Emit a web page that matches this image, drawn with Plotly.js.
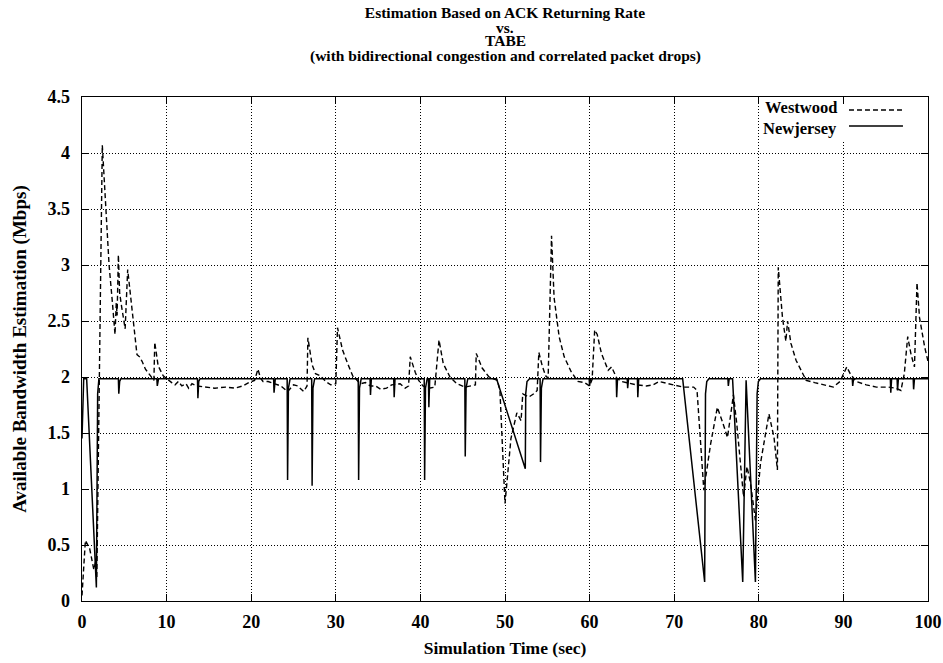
<!DOCTYPE html>
<html>
<head>
<meta charset="utf-8">
<script src="https://cdn.plot.ly/plotly-3.0.1.min.js"></script>
<style>html,body{margin:0;padding:0;background:#fff;}#chart{width:943px;height:663px;}</style>
</head>
<body>
<div id="chart"></div>
<script>
// ---- data ----
const westwoodTime = [0,0.4,0.9,1.4,1.6,1.75,2.4,2.8,3.2,3.6,3.9,4.05,4.15,4.3,4.45,4.7,5.1,5.4,5.9,6.3,6.5,6.8,7.1,7.5,8.1,8.5,8.6,8.8,9.0,9.6,10.2,10.6,11.0,11.4,11.8,12.3,12.6,13.0,13.6,14.5,15.7,17.0,18.1,19.0,19.7,20.4,20.8,21.1,21.4,22.0,22.9,23.5,24.3,25.0,25.5,26.2,26.6,26.7,27.2,27.6,28.2,28.8,29.4,30.0,30.2,30.8,31.4,32.0,32.9,33.5,34.1,34.7,35.3,36.0,36.6,37.6,38.2,38.6,38.8,39.4,39.8,40.3,41.0,41.7,42.2,42.7,43.5,44.3,45.3,46.0,46.5,46.6,47.3,48.1,49.1,49.4,50.0,50.7,51.4,51.9,52.1,52.8,53.4,53.8,54.0,54.4,54.8,55.1,55.3,55.5,55.8,56.4,57.0,57.8,58.6,59.4,60.0,60.3,60.6,60.9,61.4,62.2,62.6,63.2,63.8,64.3,65.5,66.7,67.5,68.2,68.7,69.9,71.1,72.3,72.7,73.5,74.3,75.1,75.7,76.3,77.0,77.4,78.2,78.6,79.0,79.6,80.2,81.2,81.8,82.2,82.3,82.8,83.2,83.4,83.8,84.4,85.0,85.6,86.6,87.8,88.8,89.6,90.0,90.4,90.8,91.5,92.7,93.9,95.3,96.2,96.8,97.2,97.6,98.0,98.4,98.7,99.0,99.6,100.0];
const westwoodBw = [0.05,0.54,0.47,0.28,0.35,0.2,4.07,3.5,3.0,2.66,2.38,2.66,2.55,3.09,2.75,2.62,2.43,2.96,2.6,2.3,2.2,2.18,2.14,2.07,2.01,1.97,2.31,2.2,2.1,2.01,1.97,1.95,1.93,1.96,1.92,1.94,1.9,1.94,1.92,1.91,1.9,1.91,1.9,1.92,1.95,1.97,2.07,1.99,1.96,1.96,1.94,1.92,1.87,1.93,1.92,1.87,1.92,2.35,2.11,2.03,2.01,1.96,1.93,1.94,2.44,2.24,2.12,2.01,1.94,1.95,1.92,1.92,1.89,1.9,1.93,1.94,1.9,1.92,2.18,2.04,1.97,1.92,1.9,1.91,2.33,2.12,2.0,1.94,1.91,1.92,1.93,2.21,2.08,2.0,1.97,1.88,0.87,1.45,1.68,1.61,1.85,1.82,1.85,1.88,2.22,2.1,2.01,1.99,2.7,3.26,2.71,2.36,2.18,2.05,1.96,1.95,1.92,1.98,2.42,2.38,2.21,2.06,2.09,1.99,1.96,1.95,1.93,1.92,1.93,1.96,1.95,1.93,1.91,1.91,1.88,0.99,1.40,1.73,1.6,1.46,1.84,1.58,0.93,1.2,1.06,0.72,1.23,1.67,1.46,1.17,2.98,2.53,2.32,2.5,2.3,2.15,2.06,1.97,1.95,1.93,1.91,1.96,2.03,2.09,2.03,1.96,1.93,1.91,1.91,1.9,1.88,2.03,2.36,2.2,2.09,2.84,2.53,2.27,2.14];

const newjerseyTime = [0,0.2,0.55,1.7,1.85,2.0,4.3,4.35,4.45,4.6,8.85,8.9,9.05,13.65,13.7,13.8,13.95,22.65,22.7,22.85,24.25,24.3,24.4,24.6,27.15,27.2,27.3,27.5,32.65,32.7,32.8,33.0,34.05,34.1,34.2,36.85,36.9,37.0,40.45,40.5,40.6,40.8,40.95,41.0,41.1,45.25,45.3,45.4,45.6,49.0,52.4,52.45,52.6,52.9,54.15,54.2,54.3,54.5,59.95,60.0,60.1,63.15,63.2,63.3,64.45,64.5,64.6,65.65,65.7,65.8,71.0,73.6,73.7,73.85,74.1,76.35,76.4,76.5,76.9,78.1,78.5,79.6,79.8,79.95,80.2,91.05,91.1,91.2,95.55,95.6,95.7,96.35,96.4,96.5,98.25,98.3,98.4,100];
const newjerseyBw = [1.45,1.985,1.985,0.12,1.85,1.985,1.985,1.85,1.96,1.985,1.985,1.92,1.985,1.985,1.81,1.96,1.985,1.985,1.86,1.985,1.985,1.08,1.9,1.985,1.985,1.03,1.9,1.985,1.985,1.08,1.9,1.985,1.985,1.84,1.985,1.985,1.82,1.985,1.985,1.08,1.9,1.985,1.985,1.73,1.985,1.985,1.29,1.9,1.985,1.985,1.18,1.85,1.96,1.985,1.985,1.24,1.9,1.985,1.985,1.92,1.985,1.985,1.82,1.985,1.985,1.9,1.985,1.985,1.82,1.985,1.985,0.17,1.85,1.96,1.985,1.985,1.92,1.985,1.985,0.17,1.97,0.17,1.85,1.96,1.985,1.985,1.92,1.985,1.985,1.86,1.985,1.985,1.88,1.985,1.985,1.89,1.985,1.985];

const seriesNames = ["Westwood", "Newjersey"];
const xTickVals = [0,10,20,30,40,50,60,70,80,90,100];
const xTickText = ["0","10","20","30","40","50","60","70","80","90","100"];
const yTickVals = [0,0.5,1,1.5,2,2.5,3,3.5,4,4.5];
const yTickText = ["0","0.5","1","1.5","2","2.5","3","3.5","4","4.5"];
const titleLines = ["Estimation Based on ACK Returning Rate", "vs.", "TABE", "(with bidirectional congestion and correlated packet drops)"];
const xTitle = "Simulation Time (sec)";
const yTitle = "Available Bandwidth Estimation (Mbps)";

// ---- chart ----
const serif = "Liberation Serif, Times New Roman, serif";
const titleFont = {family: serif, size: 15.5, color: "#000", weight: "bold"};
const legendFont = {family: serif, size: 16.5, color: "#000", weight: "bold"};
const traces = [
  {x: westwoodTime, y: westwoodBw, name: seriesNames[0], type: "scatter", mode: "lines",
   line: {color: "#000", width: 1.4, dash: "5px,3px"}},
  {x: newjerseyTime, y: newjerseyBw, name: seriesNames[1], type: "scatter", mode: "lines",
   line: {color: "#000", width: 1.5}}
];

const axisCommon = {
  ticks: "inside", ticklen: 7, tickcolor: "#000", tickwidth: 1,
  showline: true, linecolor: "#000", linewidth: 1.3, mirror: "allticks",
  showgrid: true, gridcolor: "#000", gridwidth: 1, griddash: "1px,2px",
  zeroline: false, fixedrange: true,
  tickfont: {family: serif, size: 18, color: "#000", weight: "bold"},
  tickmode: "array"
};

const layout = {
  width: 943, height: 663,
  margin: {l: 82, r: 15, t: 97, b: 62, pad: 0},
  paper_bgcolor: "#fff", plot_bgcolor: "#fff",
  showlegend: false,
  title: {text: titleLines[0], x: 0.5355, xanchor: "center", y: 0.981, yanchor: "middle", font: titleFont},
  xaxis: Object.assign({}, axisCommon, {
    range: [0, 100], tickvals: xTickVals, ticktext: xTickText, ticklabelstandoff: 4,
    title: {text: xTitle, standoff: 10, font: {family: serif, size: 17.5, color: "#000", weight: "bold"}}
  }),
  yaxis: Object.assign({}, axisCommon, {
    range: [0, 4.5], tickvals: yTickVals, ticktext: yTickText, ticklabelstandoff: 7,
    title: {text: yTitle, standoff: 16, font: {family: serif, size: 19, color: "#000", weight: "bold"}}
  }),
  annotations: [
    {text: titleLines[1], xref: "paper", yref: "paper", x: 0.5, y: (601 - 27) / 504, xanchor: "center", yanchor: "middle", showarrow: false, borderpad: 0, font: titleFont},
    {text: titleLines[2], xref: "paper", yref: "paper", x: 0.5, y: (601 - 41) / 504, xanchor: "center", yanchor: "middle", showarrow: false, borderpad: 0, font: titleFont},
    {text: titleLines[3], xref: "paper", yref: "paper", x: 0.5, y: (601 - 55.5) / 504, xanchor: "center", yanchor: "middle", showarrow: false, borderpad: 0, font: titleFont},
    {text: seriesNames[0], xref: "paper", yref: "paper", x: 0.8936, y: (601 - 118) / 504, xanchor: "right", yanchor: "bottom", showarrow: false,
     borderpad: 0, font: legendFont},
    {text: seriesNames[1], xref: "paper", yref: "paper", x: 0.8936, y: (601 - 118) / 504, xanchor: "right", yanchor: "top", showarrow: false,
     borderpad: 0, font: legendFont}
  ],
  shapes: [
    {type: "rect", xref: "paper", yref: "paper", x0: 0.8015, x1: 0.985, y0: 0.9147, y1: 0.9861,
     fillcolor: "#fff", line: {width: 0}, layer: "above"},
    {type: "line", xref: "paper", yref: "paper", x0: 0.9066, x1: 0.9704, y0: 0.9742, y1: 0.9742,
     line: {color: "#000", width: 1.4, dash: "5px,3px"}, layer: "above"},
    {type: "line", xref: "paper", yref: "paper", x0: 0.9066, x1: 0.9704, y0: 0.9425, y1: 0.9425,
     line: {color: "#000", width: 1.5}, layer: "above"}
  ]
};

Plotly.newPlot("chart", traces, layout, {displayModeBar: false, staticPlot: true});
</script>
</body>
</html>
